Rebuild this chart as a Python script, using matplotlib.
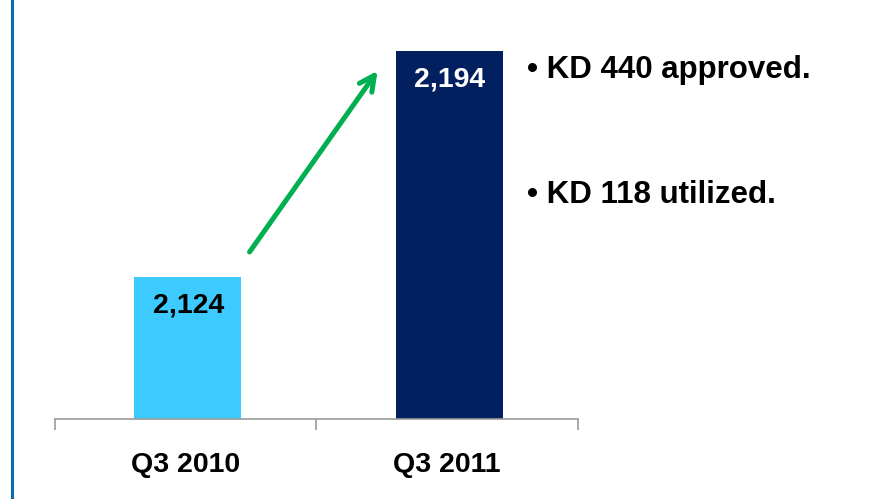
import matplotlib
matplotlib.use("Agg")
import matplotlib.pyplot as plt
from matplotlib.lines import Line2D

# data
categories = ["Q3 2010", "Q3 2011"]
values = [2124, 2194]
value_labels = ["2,124", "2,194"]
bullets = ["KD 440 approved.", "KD 118 utilized."]

bar_colors = ["#3DCBFF", "#02205F"]
label_colors = ["black", "white"]

plt.rcParams['font.family'] = ['Liberation Sans', 'DejaVu Sans']
plt.rcParams['font.weight'] = 'bold'

fig = plt.figure(figsize=(8.85, 4.99), dpi=100)
ax = fig.add_axes([0.0621, 0.1603, 0.591, 0.7996])

x = list(range(len(categories)))
ax.bar([xi + 0.008 for xi in x], values, width=0.41, color=bar_colors, zorder=2)
ax.set_xlim(-0.5, 1.5)
ax.set_ylim(2080, 2203.5)

# value labels inside the top of the bars
for xi, v, lab, c in zip(x, values, value_labels, label_colors):
    ax.annotate(lab, (xi + 0.01, v), xytext=(0, -29), textcoords='offset pixels',
                ha='center', va='center', fontsize=20.5, fontweight='bold', color=c)

# axis styling
for s in ['left', 'right', 'top']:
    ax.spines[s].set_visible(False)
ax.spines['bottom'].set_color('#999999')
ax.spines['bottom'].set_linewidth(1.2)
ax.set_yticks([])
ax.set_xticks([-0.5, 0.5, 1.5])
ax.set_xticklabels([])
ax.tick_params(axis='x', which='major', direction='out', length=8, color='#999999', width=1.2)
ax.set_xticks(x, minor=True)
ax.set_xticklabels(categories, minor=True, fontsize=20.5, fontweight='bold')
ax.tick_params(axis='x', which='minor', length=0, pad=24)

# green growth arrow
ax.annotate('', xy=(0.74, 2188.5), xytext=(0.238, 2131),
            arrowprops=dict(arrowstyle='->,head_length=1.1,head_width=0.55',
                            color='#00B050', lw=3.6))

# bullet notes
fig.text(0.5955, 0.86, "\u2022 " + bullets[0], fontsize=22.5, fontweight='bold', va='center')
fig.text(0.5955, 0.609, "\u2022 " + bullets[1], fontsize=22.5, fontweight='bold', va='center')

# blue frame line on the left
fig.add_artist(Line2D([0.0141, 0.0141], [0, 1], transform=fig.transFigure,
                      color='#0A6BB5', lw=2.2))

fig.savefig("out.png", dpi=100)
